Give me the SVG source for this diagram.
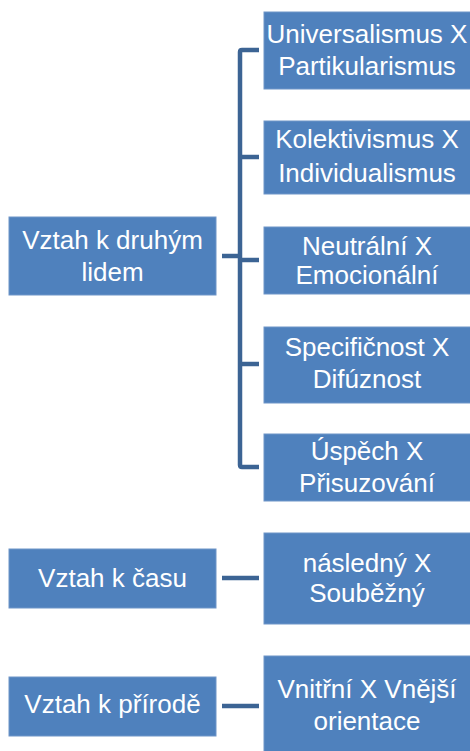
<svg xmlns="http://www.w3.org/2000/svg" width="470" height="751" viewBox="0 0 470 751">
<style>
.box{fill:#4F81BD;stroke:#6F95C8;stroke-width:1}
.t{fill:#FFFFFF;font-family:"Liberation Sans","Open Sans",Arial,sans-serif;font-size:26px;text-anchor:middle}
.c{fill:none;stroke:#3C6494;stroke-width:4.5;stroke-linejoin:round;stroke-linecap:butt}
</style>
<rect width="470" height="751" fill="#FFFFFF"/>
<g id="connectors">
<path class="c" d="M259,50 H242 Q240,50 240,52 V465 Q240,467 242,467 H259"/>
<path class="c" d="M240,157 H259"/>
<path class="c" d="M240,260 H259"/>
<path class="c" d="M240,364 H259"/>
<path class="c" d="M222,256 H240"/>
<path class="c" d="M222,578 H259"/>
<path class="c" d="M222,706 H259"/>
</g>
<g id="n-druhym">
<rect class="box" x="9" y="217" width="207" height="78"/>
<text class="t" x="112.5" y="249">Vztah k druhým</text>
<text class="t" x="112.5" y="281">lidem</text>
</g>
<g id="n-casu">
<rect class="box" x="9" y="549" width="207" height="59"/>
<text class="t" x="112.5" y="587">Vztah k času</text>
</g>
<g id="n-prirode">
<rect class="box" x="9" y="677" width="207" height="59"/>
<text class="t" x="112.5" y="713">Vztah k přírodě</text>
</g>
<g id="n-univ">
<rect class="box" x="264" y="12" width="210" height="77"/>
<text class="t" x="367" y="43">Universalismus X</text>
<text class="t" x="367" y="75">Partikularismus</text>
</g>
<g id="n-kolekt">
<rect class="box" x="264" y="121" width="210" height="73"/>
<text class="t" x="367" y="148">Kolektivismus X</text>
<text class="t" x="367" y="182">Individualismus</text>
</g>
<g id="n-neutral">
<rect class="box" x="264" y="227" width="210" height="67"/>
<text class="t" x="367" y="255">Neutrální X</text>
<text class="t" x="367" y="284">Emocionální</text>
</g>
<g id="n-specif">
<rect class="box" x="264" y="327" width="210" height="76"/>
<text class="t" x="367" y="356">Specifičnost X</text>
<text class="t" x="367" y="388">Difúznost</text>
</g>
<g id="n-uspech">
<rect class="box" x="264" y="434" width="210" height="67"/>
<text class="t" x="367" y="460">Úspěch X</text>
<text class="t" x="367" y="492">Přisuzování</text>
</g>
<g id="n-nasledny">
<rect class="box" x="264" y="533" width="210" height="91"/>
<text class="t" x="367" y="572">následný X</text>
<text class="t" x="367" y="602">Souběžný</text>
</g>
<g id="n-vnitrni">
<rect class="box" x="264" y="656" width="210" height="100"/>
<text class="t" x="367" y="698">Vnitřní X Vnější</text>
<text class="t" x="367" y="730">orientace</text>
</g>
</svg>
